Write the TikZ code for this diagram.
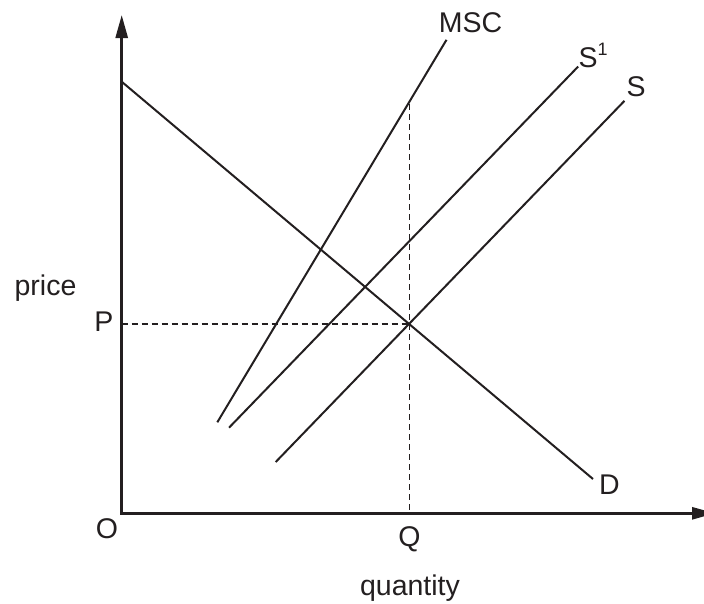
\documentclass[tikz,border=0pt]{standalone}
\usepackage{fontspec}
\setmainfont{Liberation Sans}
\usetikzlibrary{arrows.meta}
\definecolor{ink}{HTML}{231F20}
\tikzset{
  axisline/.style={draw=ink, line width=2.7pt, line join=miter},
  curve/.style={draw=ink, line width=2pt},
  guide/.style={draw=ink, line width=1.3pt, dash pattern=on 6pt off 4pt},
  lbl/.style={inner sep=0pt, text=ink, font=\fontsize{28.5}{34}\selectfont},
}
\begin{document}
\begin{tikzpicture}[x=1pt, y=-1pt]
\useasboundingbox (0,0) rectangle (704,603);
% axis coordinates
\coordinate (ytop) at (121.7,15);
\coordinate (orig) at (121.7,513.3);
\coordinate (xend) at (715,513.3);
% curves
\coordinate (d1) at (121.7,81.7);
\coordinate (d2) at (593,479);
\coordinate (m1) at (217.3,422.3);
\coordinate (m2) at (446.5,39.8);
\coordinate (s11) at (229,427.7);
\coordinate (s12) at (578.2,66.5);
\coordinate (s1) at (275.7,462);
\coordinate (s2) at (624.5,100.8);
% guides
\coordinate (qtop) at (409.3,104);
\coordinate (qbot) at (409.3,513.3);
\coordinate (pleft) at (121.7,324);
\coordinate (eq) at (409.3,324);

\draw[guide] (qtop) -- (qbot);
\draw[guide] (pleft) -- (eq);

\draw[curve] (d1) -- (d2);
\draw[curve] (m1) -- (m2);
\draw[curve] (s11) -- (s12);
\draw[curve] (s1) -- (s2);

\draw[axisline, {Triangle[length=23pt,width=12pt]}-{Triangle[length=23pt,width=12pt]}] (ytop) -- (orig) -- (xend);

% labels
\node[lbl, anchor=base] (lmsc) at (470.5,32.3) {MSC};
\node[lbl, anchor=base west] (ls1) at (578.5,67.3) {S\raisebox{12.3pt}{\fontsize{18}{18}\selectfont 1}};
\node[lbl, anchor=base] (ls) at (636,96.7) {S};
\node[lbl, anchor=base] (ld) at (609.5,494) {D};
\node[lbl, anchor=base] (lp) at (104,331.7) {P};
\node[lbl, anchor=base] (lo) at (107,538.5) {O};
\node[lbl, anchor=base] (lq) at (409.5,546.5) {Q};
\node[lbl, anchor=base] (lprice) at (45.5,295) {price};
\node[lbl, anchor=base] (lqty) at (410,595) {quantity};
\end{tikzpicture}
\end{document}
